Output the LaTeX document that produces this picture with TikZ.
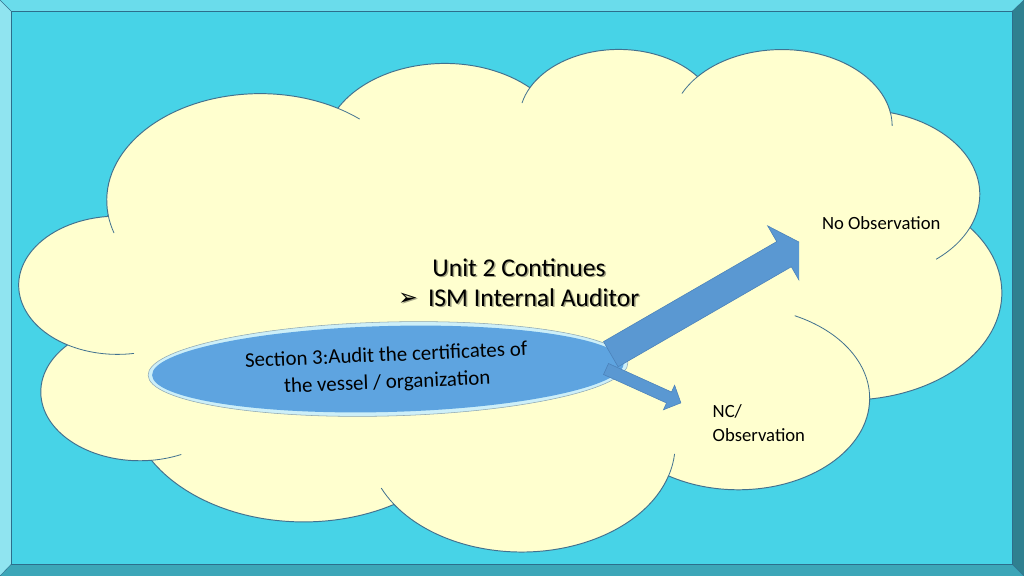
\documentclass[tikz,border=0pt]{standalone}
\usepackage{fontspec}
\setmainfont{Carlito}
\newfontfamily\dejavu{DejaVu Sans}
\usetikzlibrary{shapes.geometric}
\definecolor{bgc}{HTML}{47D3E7}
\definecolor{framet}{HTML}{6ADCEB}
\definecolor{framel}{HTML}{90E4F0}
\definecolor{framer}{HTML}{2F8090}
\definecolor{frameb}{HTML}{3CA6B8}
\definecolor{frameline}{HTML}{2C6E8C}
\definecolor{cloudfill}{HTML}{FFFFCF}
\definecolor{cloudline}{HTML}{41718F}
\definecolor{ellblue}{HTML}{5EA4E0}
\definecolor{rimc}{HTML}{CDEFF8}
\definecolor{rimline}{HTML}{8DA7B3}
\definecolor{arrowfill}{HTML}{5A98D2}
\definecolor{arrowline}{HTML}{4A80B8}
% visual (OOXML) angle -> parametric angle for arc
\newcommand\cloudarcdef[5]{%
  \pgfmathsetmacro\tmpd{atan2(#2*sin(#4), #3*cos(#4)) - (#4)}%
  \pgfmathsetmacro\tmpd{\tmpd - 360*round(\tmpd/360)}%
  \pgfmathsetmacro\tmpS{#4 + \tmpd}%
  \pgfmathsetmacro\tmpe{#4 + #5}%
  \pgfmathsetmacro\tmpd{atan2(#2*sin(\tmpe), #3*cos(\tmpe)) - \tmpe}%
  \pgfmathsetmacro\tmpd{\tmpd - 360*round(\tmpd/360)}%
  \pgfmathsetmacro\tmpE{\tmpe + \tmpd}%
  \expandafter\xdef\csname #1s\endcsname{\tmpS}%
  \expandafter\xdef\csname #1e\endcsname{\tmpE}%
}
\cloudarcdef{cA}{675.3}{919.0}{-190.4875}{123.7805}
\cloudarcdef{cB}{533.3}{726.7}{-144.1024}{89.9452}
\cloudarcdef{cC}{436.5}{594.5}{-145.8079}{99.7230}
\cloudarcdef{cD}{485.7}{659.5}{-130.9861}{117.2417}
\cloudarcdef{cE}{533.3}{727.3}{-78.7089}{109.0269}
\cloudarcdef{cF}{677.5}{922.0}{-46.2673}{130.2690}
\cloudarcdef{cG}{578.5}{786.7}{0.6250}{114.0333}
\cloudarcdef{cH}{675.2}{921.5}{22.4516}{115.1726}
\cloudarcdef{cI}{772.0}{1054.3}{66.2426}{75.7110}
\cloudarcdef{cJ}{436.0}{591.8}{-274.9421}{146.7356}
\cloudarcdef{cK}{434.5}{594.5}{-246.8285}{152.5189}
\tikzset{
  cloudshape/.style={fill=cloudfill, draw=cloudline, line width=0.9pt, line join=round},
  innerarc/.style={draw=cloudline, line width=0.75pt},
  blockarrow/.style={fill=arrowfill, draw=arrowline, line width=0.5pt, line join=miter},
  txt/.style={inner sep=0pt, outer sep=0pt, text=black},
  shadowtxt/.style={inner sep=0pt, outer sep=0pt, text=black, text opacity=0.35},
  bigfont/.style={font=\fontsize{24}{29}\selectfont},
  bulletfont/.style={font=\dejavu\fontsize{22}{26}\selectfont},
  ellfont/.style={font=\fontsize{19.6}{25.5}\selectfont},
  smallfont/.style={font=\fontsize{17.5}{21}\selectfont},
}
\begin{document}
\begin{tikzpicture}[x=0.9375pt, y=-0.9375pt]
\useasboundingbox (0,0) rectangle (1024,576);
% frame
\fill[framet] (0,0) -- (1024,0) -- (1012.5,11) -- (11,11) -- cycle;
\fill[framel] (0,0) -- (11,11) -- (11,564.5) -- (0,576) -- cycle;
\fill[framer] (1024,0) -- (1024,576) -- (1012.5,564.5) -- (1012.5,11) -- cycle;
\fill[frameb] (0,576) -- (11,564.5) -- (1012.5,564.5) -- (1024,576) -- cycle;
\fill[bgc] (11,11) rectangle (1012.5,564.5);
\draw[frameline, line width=0.6pt] (11,11) rectangle (1012.5,564.5);
\draw[frameline, line width=0.4pt] (0,0) -- (11,11) (1024,0) -- (1012.5,11) (0,576) -- (11,564.5) (1024,576) -- (1012.5,564.5);
% cloud
\begin{scope}[shift={(18.28pt,-44.81pt)}, x=0.21309pt, y=-0.10903pt]
\path[cloudshape] (390,1437) coordinate (j0)
  arc[start angle=\cAs, end angle=\cAe, x radius=675.3, y radius=919.0] coordinate (j1)
  arc[start angle=\cBs, end angle=\cBe, x radius=533.3, y radius=726.7] coordinate (j2)
  arc[start angle=\cCs, end angle=\cCe, x radius=436.5, y radius=594.5] coordinate (j3)
  arc[start angle=\cDs, end angle=\cDe, x radius=485.7, y radius=659.5] coordinate (j4)
  arc[start angle=\cEs, end angle=\cEe, x radius=533.3, y radius=727.3] coordinate (j5)
  arc[start angle=\cFs, end angle=\cFe, x radius=677.5, y radius=922.0] coordinate (j6)
  arc[start angle=\cGs, end angle=\cGe, x radius=578.5, y radius=786.7] coordinate (j7)
  arc[start angle=\cHs, end angle=\cHe, x radius=675.2, y radius=921.5] coordinate (j8)
  arc[start angle=\cIs, end angle=\cIe, x radius=772.0, y radius=1054.3] coordinate (j9)
  arc[start angle=\cJs, end angle=\cJe, x radius=436.0, y radius=591.8] coordinate (j10)
  arc[start angle=\cKs, end angle=\cKe, x radius=434.5, y radius=594.5] -- cycle;
% inner arcs
\draw[innerarc] (j0) arc[start angle=\cAs, end angle=\cAs-10, x radius=675.3, y radius=919.0];
\draw[innerarc] (j1) arc[start angle=\cAe, end angle=\cAe+10, x radius=675.3, y radius=919.0];
\draw[innerarc] (j2) arc[start angle=\cCs, end angle=\cCs-13.5, x radius=436.5, y radius=594.5];
\draw[innerarc] (j3) arc[start angle=\cDs, end angle=\cDs-15, x radius=485.7, y radius=659.5];
\draw[innerarc] (j4) arc[start angle=\cDe, end angle=\cDe+10, x radius=485.7, y radius=659.5];
\draw[innerarc] (j5) arc[start angle=\cEe, end angle=\cEe+27, x radius=533.3, y radius=727.3];
\draw[innerarc] (j6) arc[start angle=\cGs, end angle=\cGs-65, x radius=578.5, y radius=786.7];
\draw[innerarc] (j7) arc[start angle=\cHs, end angle=\cHs-12, x radius=675.2, y radius=921.5];
\draw[innerarc] (j8) arc[start angle=\cHe, end angle=\cHe+10, x radius=675.2, y radius=921.5];
\draw[innerarc] (j9) arc[start angle=\cJs, end angle=\cJs-18, x radius=436.0, y radius=591.8];
\draw[innerarc] (j10) arc[start angle=\cKs, end angle=\cKs-40, x radius=434.5, y radius=594.5];
\end{scope}
% title text with shadow
\node[shadowtxt, bigfont, anchor=base] (u2s) at (520.5,277.5) {Unit 2 Continues};
\node[txt, bigfont, anchor=base] (u2) at (519,276) {Unit 2 Continues};
\node[shadowtxt, bulletfont, anchor=base west] (buls) at (399.5,306.5) {➢};
\node[txt, bulletfont, anchor=base west] (bul) at (398,305) {➢};
\node[shadowtxt, bigfont, anchor=base west] (isms) at (429.5,307.5) {ISM Internal Auditor};
\node[txt, bigfont, anchor=base west] (ism) at (428,306) {ISM Internal Auditor};
% ellipse
\node[draw=rimline, line width=0.5pt, fill=rimc, ellipse, minimum width=450pt, minimum height=88.1pt, inner sep=0pt, rotate=1.5] (sec) at (388,369) {};
\node[fill=ellblue, ellipse, minimum width=442.5pt, minimum height=80.6pt, inner sep=0pt, rotate=1.5] (secin) at (388,369) {};
\node[txt, ellfont, align=center, rotate=2.4] (sectxt) at (386.7,369.6) {Section 3:Audit the certificates of\\the vessel / organization};
% arrows
\begin{scope}
\clip (0,0) rectangle (799,576);
\path[blockarrow] (603.5,341.6) -- (776.7,241.6) -- (767.6,225.8) -- (802.2,243.7) -- (800.4,282.6) -- (791.3,266.8) -- (618.1,366.8) -- cycle;
\end{scope}
\path[blockarrow] (608.5,363.5) -- (671.5,392) -- (674.6,385.2) -- (680.9,402.9) -- (663.4,409.8) -- (666.5,403) -- (603.5,374.5) -- cycle;
% outcome labels
\node[txt, smallfont, anchor=base west] (noobs) at (822,229.3) {No Observation};
\node[txt, smallfont, anchor=base west] (nc) at (712.7,417.3) {NC/};
\node[txt, smallfont, anchor=base west] (obs) at (712.7,441.5) {Observation};
\end{tikzpicture}
\end{document}
